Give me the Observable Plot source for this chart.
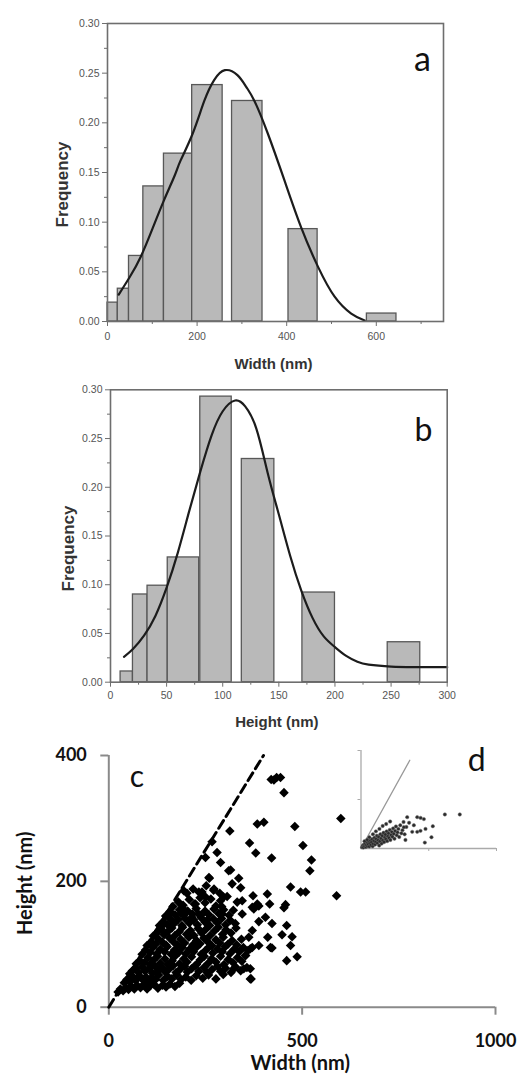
<!DOCTYPE html>
<html><head><meta charset="utf-8">
<script src="https://cdn.jsdelivr.net/npm/d3@7"></script>
<script src="https://cdn.jsdelivr.net/npm/@observablehq/plot@0.6"></script>
<style>
body{margin:0;background:#fff;}
#fig{position:relative;width:530px;height:1079px;overflow:hidden;background:#fff;}
#fig svg{position:absolute;}
</style></head><body><div id="fig"></div>
<script>
// ---------- Panel a: width histogram ----------
const widthBinStart = [0, 23, 48, 80, 126, 189, 278, 404, 579];
const widthBinEnd   = [23, 48, 80, 126, 189, 257, 346, 469, 645];
const widthFreq     = [0.019, 0.033, 0.066, 0.136, 0.169, 0.238, 0.222, 0.093, 0.008];
const widthFitX = [25, 50, 74, 100, 126, 150, 163, 190, 216, 238, 262, 290, 310, 328, 358, 395, 432, 470, 507, 544, 574];
const widthFitY = [0.027, 0.045, 0.065, 0.093, 0.122, 0.147, 0.162, 0.189, 0.222, 0.243, 0.253, 0.248, 0.236, 0.222, 0.189, 0.142, 0.095, 0.055, 0.025, 0.008, 0.001];
const widthTicks = [0, 200, 400, 600];
const widthMinor = [100, 300, 500, 700];

// ---------- Panel b: height histogram ----------
const heightBinStart = [9, 20, 33, 51, 80, 117, 171, 247];
const heightBinEnd   = [20, 33, 51, 79, 108, 146, 200, 276];
const heightFreq     = [0.011, 0.090, 0.099, 0.128, 0.293, 0.229, 0.092, 0.041];
const heightFitX = [12, 20, 30, 40, 50, 60, 70, 80, 90, 100, 111, 120, 130, 140, 150, 160, 170, 180, 190, 200, 210, 220, 230, 250, 270, 300];
const heightFitY = [0.026, 0.034, 0.048, 0.068, 0.097, 0.133, 0.175, 0.216, 0.253, 0.278, 0.289, 0.283, 0.260, 0.215, 0.172, 0.130, 0.094, 0.066, 0.047, 0.036, 0.027, 0.021, 0.018, 0.016, 0.0155, 0.0154];
const heightTicks = [0, 50, 100, 150, 200, 250, 300];
const heightMinor = [25, 75, 125, 175, 225, 275];

const freqTicks = [0, 0.05, 0.10, 0.15, 0.20, 0.25, 0.30];
const freqMinor = [0.025, 0.075, 0.125, 0.175, 0.225, 0.275];

// ---------- Panel c: height vs width scatter ----------
const scatterTicksX = [0, 500, 1000];
const scatterTicksY = [0, 200, 400];
const origin = [0];
const diagonal = [0, 400];
const scatterPts = [
 // sparse outer points
 [420,362],[427,361],[434,365],[444,365],[453,341],[600,300],[384,291],[401,294],[481,287],[313,280],
 [364,261],[380,245],[421,237],[502,257],[524,234],[520,217],[267,263],[280,246],[250,238],[289,230],
 [315,218],[336,205],[259,206],[470,191],[496,183],[509,183],[589,177],[373,177],[410,180],[384,164],
 [388,161],[375,156],[416,164],[457,163],[453,158],[405,143],[388,136],[422,133],[460,130],[448,115],
 [474,112],[411,111],[388,98],[418,95],[422,94],[470,98],[487,80],[460,74],[366,93],[366,61],[368,45],
 [260,205],[310,217],[241,183],[250,175],[272,188],[341,190],[345,169],[297,175],[292,160],[293,148],
 [371,159],[345,148],[194,185],[198,153],[186,149],[224,164],[254,138],[155,146],[142,132],[129,122],
 [215,143],[232,148],[323,61],[349,61],[366,45],[371,122],[362,111],[371,95],[353,82],
 // dense cluster
 [24,24],[30,29],[37,26],[44,31],[51,28],[57,34],[66,29],[73,35],[82,31],[91,36],[99,29],[107,34],[116,37],[127,30],[139,35],[148,32],[158,37],[171,33],[183,38],
 [40,39],[47,44],[56,41],[63,48],[70,43],[79,50],[87,44],[96,48],[103,41],[111,47],[121,44],[129,51],[141,43],[152,49],[163,45],[176,51],[187,44],[199,48],[213,43],[226,50],[243,46],[258,51],[277,45],[296,52],
 [54,53],[61,58],[69,62],[77,55],[86,64],[94,57],[104,62],[113,54],[119,65],[128,58],[137,63],[146,56],[157,61],[166,66],[174,55],[184,60],[196,65],[203,56],[214,61],[223,66],[233,57],[246,63],[254,55],[267,60],[281,65],[289,57],[302,62],[316,55],[328,64],[341,58],[357,63],
 [71,69],[80,74],[92,71],[101,79],[106,68],[116,75],[126,81],[133,70],[145,77],[152,68],[164,74],[171,81],[183,69],[194,77],[202,72],[214,80],[227,68],[236,75],[247,81],[257,70],[266,77],[277,72],[289,81],[298,68],[309,76],[321,71],[333,79],[344,73],[354,82],
 [86,84],[95,91],[107,87],[114,95],[124,85],[133,92],[144,88],[151,96],[161,84],[170,91],[181,87],[190,95],[199,85],[209,92],[219,88],[228,96],[239,84],[250,90],[258,95],[269,86],[281,93],[293,88],[301,96],[313,85],[324,92],[337,88],[348,95],[360,90],
 [99,98],[110,104],[121,100],[127,109],[139,103],[148,99],[157,110],[167,104],[178,99],[186,108],[196,102],[207,111],[217,99],[227,106],[236,101],[246,110],[256,104],[266,98],[277,107],[287,102],[296,111],[308,100],[319,106],[331,99],[343,108],
 [115,113],[126,119],[136,124],[143,115],[154,121],[163,126],[171,114],[182,120],[191,127],[201,116],[211,122],[220,114],[231,125],[240,118],[251,124],[262,114],[273,121],[283,127],[294,116],[303,123],[316,118],[329,126],
 [131,130],[141,136],[152,131],[159,140],[169,133],[179,139],[189,130],[197,141],[208,134],[219,139],[229,131],[239,142],[249,135],[261,130],[271,140],[281,134],[292,141],[302,131],[314,138],[327,133],
 [147,145],[158,152],[171,147],[183,155],[194,146],[204,153],[216,148],[226,157],[238,146],[249,153],[259,147],[272,156],[284,149],[297,155],[311,146],[322,154],
 [166,160],[180,167],[192,162],[208,171],[221,164],[236,174],[249,166],[264,172],[277,161],[289,169],[306,176],[332,167],
 [202,181],[218,188],[233,183],[252,193],[271,186],[287,181],[319,196]
];

// ---------- Panel d: inset ----------
const insetTicksX = [500, 1000];
const insetTicksY = [200, 400];
const insetDiagonal = [0, 360];
const insetPts = [
 [8,5],[14,12],[18,4],[22,16],[27,9],[31,20],[36,6],[39,14],[44,24],[48,10],[52,18],[57,28],[61,8],[65,21],[69,33],[73,14],
 [78,26],[82,38],[86,9],[90,19],[95,31],[99,44],[104,16],[108,27],[112,39],[117,52],[121,22],[126,34],[130,47],[134,12],
 [139,29],[143,58],[148,41],[152,20],[157,52],[161,33],[166,64],[170,26],[175,45],[180,57],[184,38],[189,70],[193,30],
 [198,50],[203,62],[207,43],[212,76],[217,35],[222,55],[227,68],[232,48],[237,82],[242,60],[247,40],[252,72],[258,90],
 [264,54],[270,66],[276,80],[282,47],[290,95],[298,62],[306,75],[314,108],[322,58],[335,88],[26,30],[46,36],[62,46],
 [88,58],[110,70],[136,80],[160,92],[186,100],[215,110],
 [341,128],[415,128],[440,125],[464,120],[619,139],[729,139],[530,91],[476,80],[439,72],[415,68],[378,68],[520,46],[471,24],
 [328,35],[316,87],[355,105],[390,95]
];

// ---------- labels ----------
const freqLabel = "Frequency";
const widthLabel = "Width (nm)";
const heightLabel = "Height (nm)";
const panelLabels = ["a", "b", "c", "d"];

const fig = document.getElementById("fig");
const histFont = "'Liberation Sans', Arial, sans-serif";
const axisGray = "#6e6e6e";

function histogram({bins, fit, xDomain, xTicks, xMinor, xLabel, letter, top, height, m, letterPos, yLabPos, xLabDy, xTickPad, letterSize}) {
  const svg = Plot.plot({
    width: 530, height,
    marginLeft: m[0], marginRight: m[1], marginTop: m[2], marginBottom: m[3],
    x: {domain: xDomain, label: null},
    y: {domain: [0, 0.30], label: null},
    style: {fontFamily: histFont, fontSize: "10.5px", color: "#555", background: "transparent"},
    marks: [
      Plot.rectY(bins, {x1: "x1", x2: "x2", y: "f", fill: "#b9b9b9", stroke: "#585858", strokeWidth: 1.3}),
      Plot.line(fit, {x: "x", y: "y", curve: "natural", stroke: "#1c1c1c", strokeWidth: 2.2}),
      Plot.frame({stroke: axisGray, strokeWidth: 1.6}),
      Plot.axisY(freqTicks, {tickSize: 5, tickPadding: 3, tickFormat: d3.format(".2f"), stroke: axisGray, fill: "#555", label: null}),
      Plot.axisY(freqMinor, {tickSize: 3, tickFormat: () => "", stroke: axisGray, label: null}),
      Plot.axisX(xTicks, {tickSize: 5, tickPadding: xTickPad, tickFormat: d => String(d), stroke: axisGray, fill: "#555", label: null}),
      Plot.axisX(xMinor, {tickSize: 3, tickFormat: () => "", stroke: axisGray, label: null}),
      Plot.text([freqLabel], {text: d => d, frameAnchor: "left", rotate: -90, dx: yLabPos[0], dy: yLabPos[1], lineAnchor: "middle", textAnchor: "middle", fontSize: 17, fontWeight: "bold", fill: "#333", ariaLabel: "spaced"}),
      Plot.text([xLabel], {text: d => d, frameAnchor: "bottom", dx: -2, dy: xLabDy, lineAnchor: "bottom", textAnchor: "middle", fontSize: 15, fontWeight: "bold", fill: "#333", ariaLabel: "spaced2"}),
      Plot.text([letter], {text: d => d, frameAnchor: "top-left", dx: letterPos[0], dy: letterPos[1], lineAnchor: "bottom", textAnchor: "middle", fontSize: letterSize, fontFamily: "Lato, 'Open Sans', sans-serif", fill: "#111"})
    ]
  });
  svg.style.left = "0px";
  svg.style.top = top + "px";
  d3.select(svg).selectAll('g[aria-label="spaced"] text').attr("letter-spacing", "2.2px");
  d3.select(svg).selectAll('g[aria-label="spaced2"] text').attr("letter-spacing", "0.6px");
  fig.appendChild(svg);
}

histogram({
  bins: widthBinStart.map((s, i) => ({x1: s, x2: widthBinEnd[i], f: widthFreq[i]})),
  fit: widthFitX.map((x, i) => ({x, y: widthFitY[i]})),
  xDomain: [0, 750], xTicks: widthTicks, xMinor: widthMinor, xLabel: widthLabel, letter: panelLabels[0],
  top: 0, height: 375, m: [107, 87, 23, 54], letterPos: [315, 47], yLabPos: [-45, 12], xLabDy: 47, xTickPad: 6, letterSize: 34
});

histogram({
  bins: heightBinStart.map((s, i) => ({x1: s, x2: heightBinEnd[i], f: heightFreq[i]})),
  fit: heightFitX.map((x, i) => ({x, y: heightFitY[i]})),
  xDomain: [0, 300], xTicks: heightTicks, xMinor: heightMinor, xLabel: heightLabel, letter: panelLabels[1],
  top: 375, height: 365, m: [110, 83.3, 14.3, 58.3], letterPos: [313, 50.7], yLabPos: [-42, 12.5], xLabDy: 45, xTickPad: 4, letterSize: 32
});

// Panel c
const cFont = "Lato, 'Open Sans', sans-serif";
const svgC = Plot.plot({
  width: 530, height: 339,
  marginLeft: 108.3, marginRight: 35, marginTop: 15, marginBottom: 72.3,
  x: {domain: [0, 1000], label: null},
  y: {domain: [0, 400], label: null},
  style: {fontFamily: cFont, fontSize: "18px", color: "#111", background: "transparent"},
  marks: [
    Plot.ruleX(origin, {stroke: "#8a8a8a", strokeWidth: 2}),
    Plot.ruleY(origin, {stroke: "#8a8a8a", strokeWidth: 2}),
    Plot.axisY(scatterTicksY, {tickSize: 8, tickPadding: 14, tickFormat: d => String(d), stroke: "#8a8a8a", strokeWidth: 2, fill: "#111", fontWeight: "bold", label: null}),
    Plot.axisX(scatterTicksX, {tickSize: 8, tickPadding: 19, tickFormat: d => String(d), stroke: "#8a8a8a", strokeWidth: 2, fill: "#111", fontWeight: "bold", label: null}),
    Plot.line(diagonal, {x: d => d, y: d => d, stroke: "#000", strokeWidth: 3, strokeDasharray: "9,5"}),
    Plot.dot(scatterPts, {x: d => d[0], y: d => d[1], symbol: "square", rotate: 45, r: 3.8, fill: "#000"}),
    Plot.text([widthLabel], {text: d => d, frameAnchor: "bottom", dx: -2, dy: 63, lineAnchor: "bottom", textAnchor: "middle", fontSize: 20, fontWeight: "bold", fill: "#111"}),
    Plot.text([heightLabel], {text: d => d, frameAnchor: "left", rotate: -90, dx: -83, dy: 2, lineAnchor: "middle", textAnchor: "middle", fontSize: 20, fontWeight: "bold", fill: "#111"}),
    Plot.text([panelLabels[2]], {text: d => d, frameAnchor: "top-left", dx: 28, dy: 31.7, lineAnchor: "bottom", textAnchor: "middle", fontSize: 30, fill: "#111"}),
    Plot.text([panelLabels[3]], {text: d => d, frameAnchor: "top-left", dx: 368, dy: 15, lineAnchor: "bottom", textAnchor: "middle", fontSize: 32, fill: "#111"})
  ]
});
svgC.style.left = "0px";
svgC.style.top = "740px";
fig.appendChild(svgC);

// Panel d inset
const svgD = Plot.plot({
  width: 180, height: 120,
  marginLeft: 20.5, marginRight: 24, marginTop: 10, marginBottom: 12,
  x: {domain: [0, 1000], label: null},
  y: {domain: [0, 400], label: null},
  style: {background: "transparent", color: "#aaa"},
  marks: [
    Plot.ruleX(origin, {stroke: "#aaa", strokeWidth: 1.3}),
    Plot.ruleY(origin, {stroke: "#aaa", strokeWidth: 1.3}),
    Plot.axisX(insetTicksX, {tickSize: 3, tickFormat: () => "", stroke: "#aaa", label: null}),
    Plot.axisY(insetTicksY, {tickSize: 3, tickFormat: () => "", stroke: "#aaa", label: null}),
    Plot.line(insetDiagonal, {x: d => d, y: d => d, stroke: "#999", strokeWidth: 1.3}),
    Plot.dot(insetPts, {x: d => d[0], y: d => d[1], r: 1.7, fill: "#2a2a2a", stroke: "#666", strokeWidth: 0.5})
  ]
});
svgD.style.left = "340px";
svgD.style.top = "740px";
fig.appendChild(svgD);
</script></body></html>
